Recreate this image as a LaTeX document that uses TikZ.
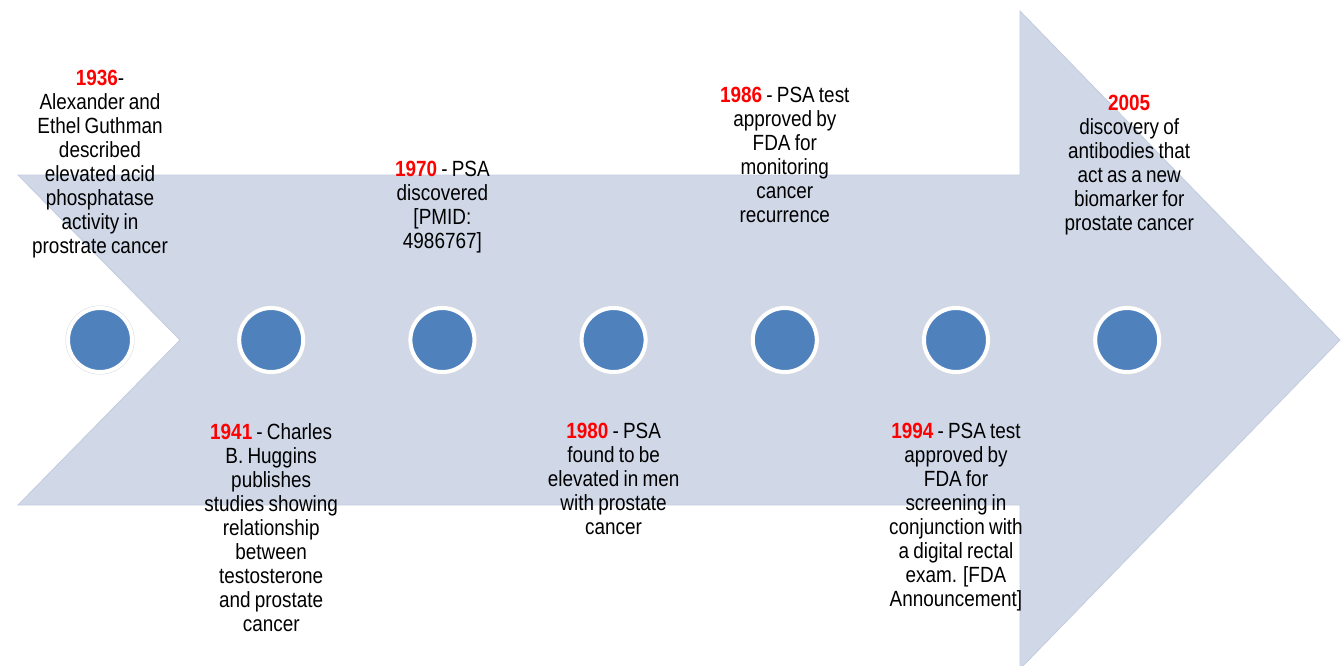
\documentclass[tikz,border=0pt]{standalone}
\usepackage{fontspec}
\setmainfont{Liberation Sans}[FakeStretch=0.86,WordSpace=0.8]
\usetikzlibrary{positioning}

\definecolor{arrowgray}{HTML}{D0D8E8}
\definecolor{arrowedge}{HTML}{C3CCDD}
\definecolor{dotblue}{HTML}{4F81BD}
\newcommand{\yr}[1]{\textcolor{red}{\textbf{#1}}}

\tikzset{
    event/.style={circle, fill=dotblue, draw=white, line width=4pt, minimum size=64pt,
        inner sep=0pt, preaction={draw=black!14, line width=5pt}},
    note/.style={anchor=north, align=center, inner sep=0pt,
        font=\fontsize{22}{24}\selectfont}
}

\begin{document}
\begin{tikzpicture}[x=1pt, y=-1pt, node distance=171.2pt, on grid]
    \useasboundingbox (0,0) rectangle (1342,665);

    \fill[arrowgray, draw=arrowedge, line width=0.8pt]
        (18,175) -- (1020,175) -- (1020,11) -- (1340,340) -- (1020,669)
        -- (1020,505) -- (18,505) -- (180,340) -- cycle;

    \node[event] (e1) at (100,340) {};
    \node[event, right=of e1] (e2) {};
    \node[event, right=of e2] (e3) {};
    \node[event, right=of e3] (e4) {};
    \node[event, right=of e4] (e5) {};
    \node[event, right=of e5] (e6) {};
    \node[event, right=of e6] (e7) {};

    \node[note] (t1936) at (e1 |- 0,70) {\yr{1936}-\\Alexander and\\Ethel Guthman\\described\\elevated acid\\phosphatase\\activity in\\prostrate cancer};
    \node[note] (t1941) at (e2 |- 0,423) {\yr{1941} - Charles\\B. Huggins\\publishes\\studies showing\\relationship\\between\\testosterone\\and prostate\\cancer};
    \node[note] (t1970) at (e3 |- 0,161) {\yr{1970} - PSA\\discovered\\{[}PMID:\\4986767]};
    \node[note] (t1980) at (e4 |- 0,423) {\yr{1980} - PSA\\found to be\\elevated in men\\with prostate\\cancer};
    \node[note] (t1986) at (e5 |- 0,87) {\yr{1986} - PSA test\\approved by\\FDA for\\monitoring\\cancer\\recurrence};
    \node[note] (t1994) at (e6 |- 0,423) {\yr{1994} - PSA test\\approved by\\FDA for\\screening in\\conjunction with\\a digital rectal\\exam. [FDA\\Announcement]};
    \node[note] (t2005) at ([xshift=2pt]e7 |- 0,95) {\yr{2005}\\discovery of\\antibodies that\\act as a new\\biomarker for\\prostate cancer};
\end{tikzpicture}
\end{document}
